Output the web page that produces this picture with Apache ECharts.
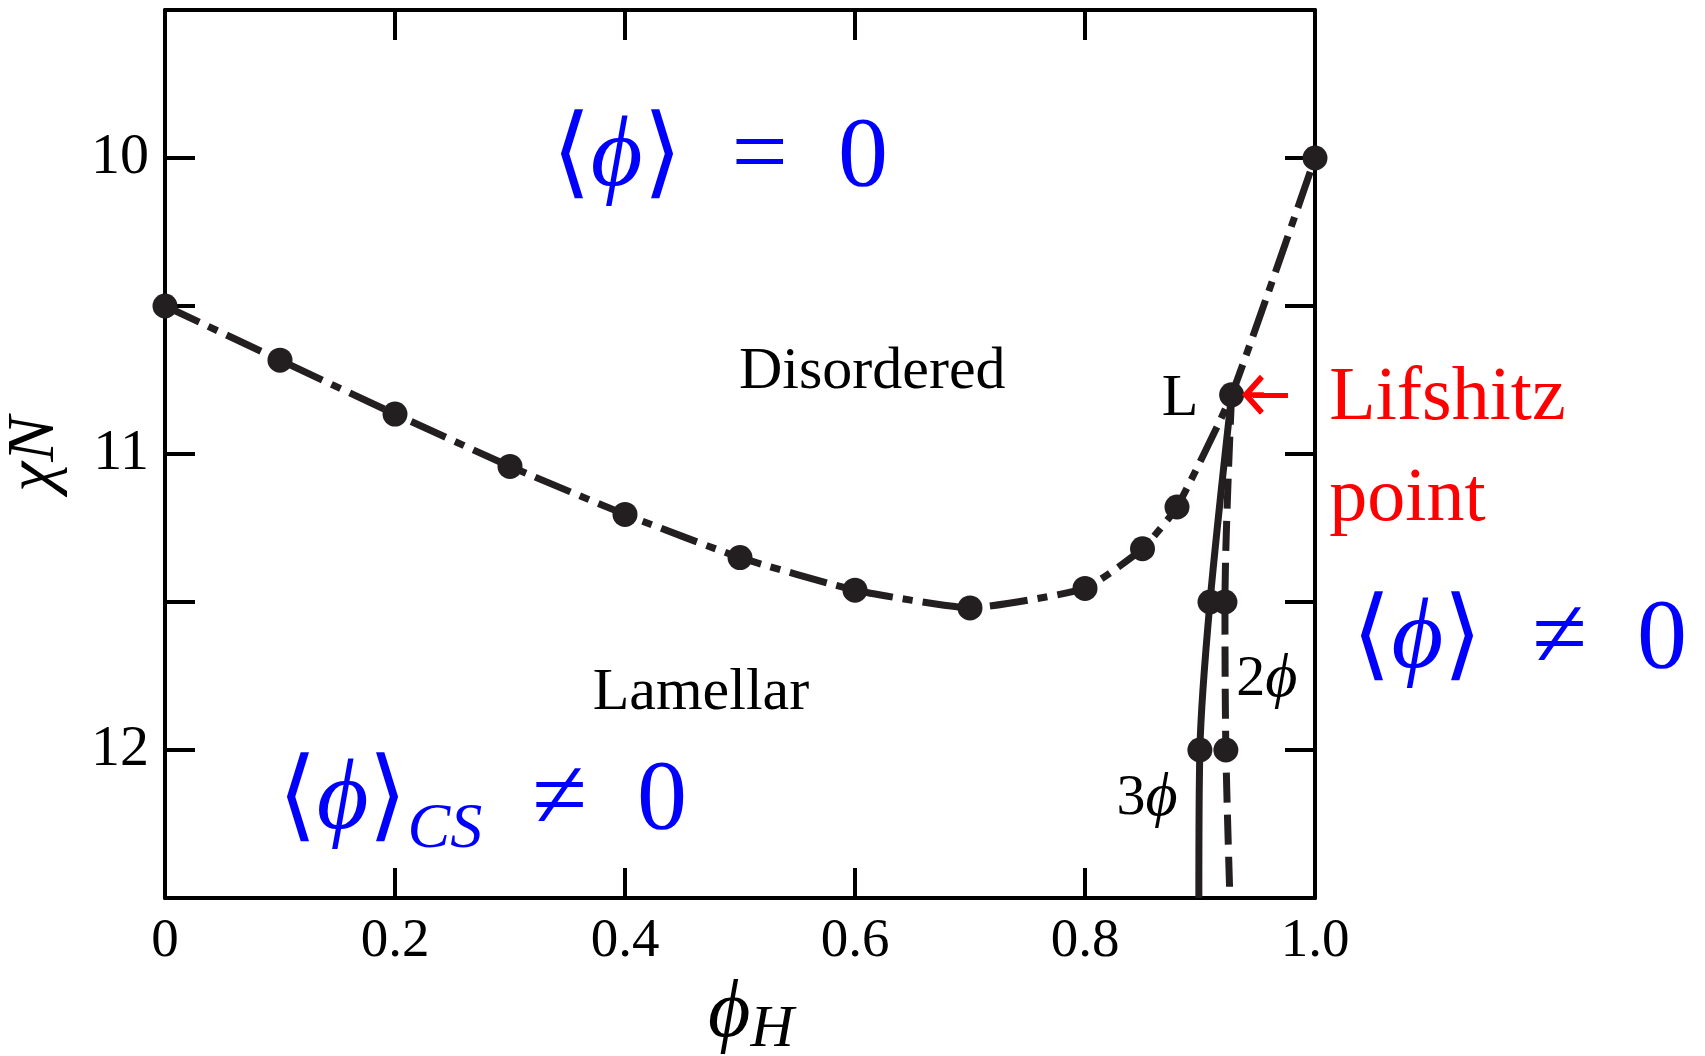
<!DOCTYPE html>
<html><head><meta charset="utf-8">
<script src="https://cdn.jsdelivr.net/npm/echarts@6/dist/echarts.min.js"></script>
<style>html,body{margin:0;padding:0;background:#fff}#c{width:1705px;height:1056px}</style>
</head><body><div id="c"></div>
<script>
// ---- data ----
const xTicks = [0, 0.2, 0.4, 0.6, 0.8, 1.0];
const xTickLabels = ['0', '0.2', '0.4', '0.6', '0.8', '1.0'];
const yTicks = [10, 11, 12];
const yTickLabels = ['10', '11', '12'];

// order-disorder boundary (dash-dot) with computed points
const phiDisorder = [0, 0.1, 0.2, 0.3, 0.4, 0.5, 0.6, 0.7, 0.8, 0.85, 0.88, 0.9275, 1.0];
const chiDisorder = [10.5, 10.683, 10.865, 11.042, 11.204, 11.35, 11.46, 11.52, 11.454, 11.32, 11.179, 10.80, 10.0];
// Lifshitz point
const lifshitz = [0.9275, 10.8];
// 3-phase boundary (solid)
const phi3Points = [0.9087, 0.8999];
const chi3Points = [11.5, 12.0];
const phi3Edge = 0.899;
// 2-phase boundary (dashed)
const phi2Points = [0.9217, 0.9225];
const chi2Points = [11.5, 12.0];
const phi2Edge = 0.926;
const chiEdge = 12.5;

// annotation anchors in data units
const annotationText = ['phi0', 'phiNe0', 'phiCS', 'Disordered', 'Lamellar', 'L', 'Lifshitz', 'point', '2phi', '3phi'];
const annotationX = [0.4825, 1.178, 0.276, 0.615, 0.466, 0.8826, 1.0124, 1.0124, 0.958, 0.854];
const annotationY = [10.004, 11.63, 12.175, 10.725, 11.807, 10.816, 10.816, 11.157, 11.763, 12.164];
const arrowFrom = [0.9765, 10.8];
const arrowTo = [0.946, 10.8];

// ---- rendering ----
const F = 'Liberation Serif';
const INK = '#231f20';
const BLUE = '#0000ff';
const RED = '#ff0000';

const rich = {
  b: {fontFamily: F, fontSize: 100, color: BLUE, lineHeight: 120},
  bi: {fontFamily: F, fontStyle: 'italic', fontSize: 100, color: BLUE, lineHeight: 120},
  bs: {fontFamily: F, fontStyle: 'italic', fontSize: 64, color: BLUE, lineHeight: 64, verticalAlign: 'bottom'},
  k: {fontFamily: F, fontSize: 60, color: '#000', lineHeight: 66},
  kd: {fontFamily: F, fontSize: 58, color: '#000', lineHeight: 66},
  ki: {fontFamily: F, fontStyle: 'italic', fontSize: 62, color: '#000', lineHeight: 66},
  r: {fontFamily: F, fontSize: 76, color: RED, lineHeight: 90}
};
const fmt = {
  'phi0': '{b|⟨}{bi|ϕ}{b|⟩  =  0}',
  'phiNe0': '{b|⟨}{bi|ϕ}{b|⟩  ≠  0}',
  'phiCS': '{b|⟨}{bi|ϕ}{b|⟩}{bs|CS}{b|  ≠  0}',
  'Disordered': '{k|Disordered}',
  'Lamellar': '{k|Lamellar}',
  'L': '{k|L}',
  'Lifshitz': '{r|Lifshitz}',
  'point': '{r|point}',
  '2phi': '{kd|2}{ki|ϕ}',
  '3phi': '{kd|3}{ki|ϕ}'
};
const leftAligned = {'Lifshitz': true, 'point': true};

const annData = annotationText.map((t, i) => ({
  value: [annotationX[i], annotationY[i]],
  label: {
    show: true,
    formatter: fmt[t],
    rich: rich,
    opacity: 1,
    position: leftAligned[t] ? 'right' : 'inside',
    distance: 0,
    align: leftAligned[t] ? 'left' : 'center',
    verticalAlign: 'middle'
  }
}));

const disorderData = phiDisorder.map((x, i) => [x, chiDisorder[i]]);
const curve3 = [lifshitz].concat(phi3Points.map((x, i) => [x, chi3Points[i]])).concat([[phi3Edge, chiEdge]]);
const curve2 = [lifshitz].concat(phi2Points.map((x, i) => [x, chi2Points[i]])).concat([[phi2Edge, chiEdge]]);
const pts3 = phi3Points.map((x, i) => [x, chi3Points[i]]);
const pts2 = phi2Points.map((x, i) => [x, chi2Points[i]]);

const axisCommon = {
  type: 'value',
  axisLine: {show: true, onZero: false, lineStyle: {color: '#000', width: 4}},
  axisTick: {show: true, inside: true, length: 30, lineStyle: {color: '#000', width: 4}},
  splitLine: {show: false}
};

const xLabel = v => {
  const i = xTicks.findIndex(t => Math.abs(t - v) < 1e-9);
  return i >= 0 ? xTickLabels[i] : '';
};
const yLabel = v => {
  const i = yTicks.findIndex(t => Math.abs(t - v) < 1e-9);
  return i >= 0 ? yTickLabels[i] : '';
};

const chart = echarts.init(document.getElementById('c'), null, {renderer: 'canvas'});
chart.setOption({
  animation: false,
  backgroundColor: '#fff',
  grid: {left: 165, right: 390, top: 10, bottom: 158, containLabel: false, outerBoundsMode: 'none'},
  xAxis: [
    Object.assign({}, axisCommon, {
      min: 0, max: 1, interval: 0.2, position: 'bottom',
      axisLabel: {show: true, formatter: xLabel, fontFamily: F, fontSize: 55, color: '#000', margin: 16},
      name: '{p|ϕ}{h|H}', nameLocation: 'middle', nameGap: 64,
      nameTextStyle: {padding: [0, 0, 0, 22], rich: {
        p: {fontFamily: F, fontStyle: 'italic', fontSize: 82, color: '#000', lineHeight: 90},
        h: {fontFamily: F, fontStyle: 'italic', fontSize: 60, color: '#000', lineHeight: 50, verticalAlign: 'bottom'}
      }}
    }),
    Object.assign({}, axisCommon, {
      min: 0, max: 1, interval: 0.2, position: 'top',
      axisLabel: {show: false}
    })
  ],
  yAxis: [
    Object.assign({}, axisCommon, {
      min: 9.5, max: 12.5, interval: 0.5, inverse: true, position: 'left',
      axisLabel: {show: true, formatter: yLabel, fontFamily: F, fontSize: 58, color: '#000', margin: 16},
      name: 'χN', nameLocation: 'middle', nameGap: 96, nameRotate: 90,
      nameTextStyle: {fontFamily: F, fontStyle: 'italic', fontSize: 68, color: '#000'}
    }),
    Object.assign({}, axisCommon, {
      min: 9.5, max: 12.5, interval: 0.5, inverse: true, position: 'right',
      axisLabel: {show: false}
    })
  ],
  series: [
    {
      type: 'line', data: disorderData, smooth: 0.15,
      lineStyle: {color: INK, width: 7, type: [38, 10, 10, 10], cap: 'butt'},
      symbol: 'circle', symbolSize: 25, showSymbol: true,
      itemStyle: {color: INK, opacity: 1}, z: 3,
      markLine: {
        silent: true, animation: false,
        symbol: ['none', 'path://M20,0 L40,18 L36,22 L22.5,10 L22.5,22 L17.5,22 L17.5,10 L4,22 L0,18 Z'],
        symbolSize: [40, 22],
        label: {show: false},
        lineStyle: {color: RED, width: 5, type: 'solid', opacity: 1},
        emphasis: {disabled: true},
        data: [[{coord: arrowFrom, itemStyle: {color: RED}}, {coord: arrowTo, itemStyle: {color: RED}}]]
      }
    },
    {
      type: 'line', data: curve3, smooth: 0.3, showSymbol: false,
      lineStyle: {color: INK, width: 7, type: 'solid'}, z: 2
    },
    {
      type: 'line', data: curve2, smooth: 0.3, showSymbol: false,
      lineStyle: {color: INK, width: 7, type: [30, 12], cap: 'butt'}, z: 2
    },
    {
      type: 'scatter', data: pts3.concat(pts2), symbol: 'circle', symbolSize: 25,
      itemStyle: {color: INK, opacity: 1}, z: 4
    },
    {
      type: 'scatter', data: annData, symbolSize: 0, clip: false, silent: true, z: 10,
      itemStyle: {opacity: 1}
    }
  ]
});
</script>
</body></html>
